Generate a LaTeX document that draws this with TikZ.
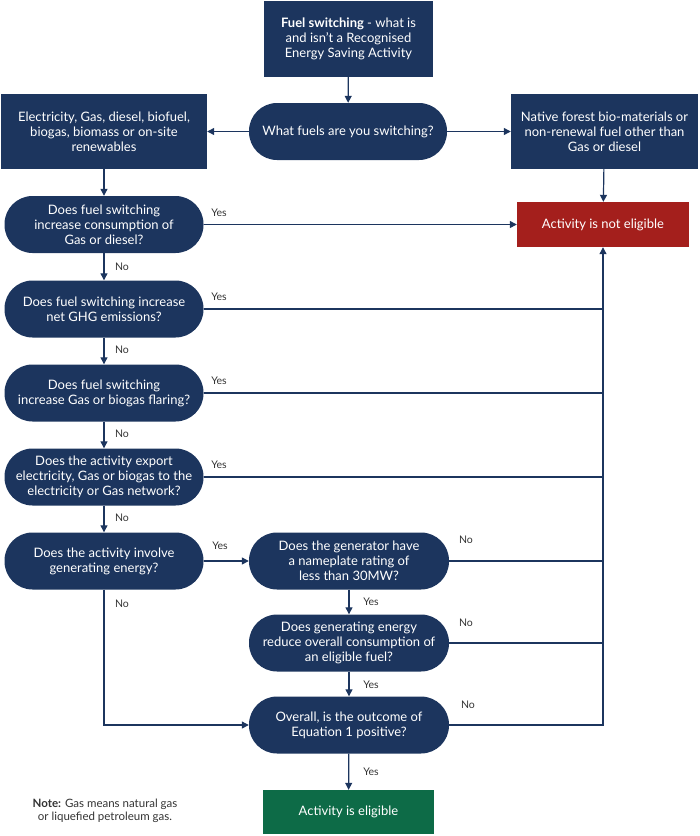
\documentclass[tikz,border=0pt]{standalone}
\usepackage{fontspec}
\setmainfont{Lato}
\usetikzlibrary{arrows.meta}
\definecolor{navy}{HTML}{1C355E}
\definecolor{bad}{HTML}{A41F1C}
\definecolor{good}{HTML}{0D6B47}
\definecolor{lbl}{HTML}{333333}
\tikzset{
  base/.style={draw=none, text=white, align=center, inner sep=1pt,
    font=\fontsize{13}{15}\selectfont},
  sq/.style={base, fill=navy, rectangle, minimum width=#1, minimum height=75},
  q/.style={base, fill=navy, rectangle, rounded corners=28pt, minimum width=199, minimum height=57},
  endbox/.style={base, fill=#1, minimum width=171, minimum height=45},
  conn/.style={draw=navy, line width=1.2pt},
  arr/.style={conn, -{Triangle[length=7pt,width=7pt]}},
  lab/.style={text=lbl, font=\fontsize{10.5}{12}\selectfont, inner sep=0pt}
}
\begin{document}
\begin{tikzpicture}[x=1pt,y=-1pt]
\useasboundingbox (0,0) rectangle (700,836);
\node[sq=169, minimum height=76] (top) at (348.5,39) {\textbf{Fuel switching} - what is\\and isn't a Recognised\\Energy Saving Activity};
\node[q, minimum width=198] (fuels) at (348,131.5) {What fuels are you switching?};
\node[sq=206] (left) at (104,131.5) {Electricity, Gas, diesel, biofuel,\\biogas, biomass or on-site\\renewables};
\node[sq=187] (right) at (604.5,131.5) {Native forest bio-materials or\\non-renewal fuel other than\\Gas or diesel};
\node[endbox=bad, minimum width=172] (red) at (603,224.5) {Activity is not eligible};
\node[q] (q1) at (104,224.5) {Does fuel switching\\increase consumption of\\Gas or diesel?};
\node[q] (q2) at (104,309) {Does fuel switching increase\\net GHG emissions?};
\node[q] (q3) at (104,393) {Does fuel switching\\increase Gas or biogas flaring?};
\node[q] (q4) at (104,477) {Does the activity export\\electricity, Gas or biogas to the\\electricity or Gas network?};
\node[q] (q5) at (104,561) {Does the activity involve\\generating energy?};
\node[q, minimum width=200] (g1) at (349,561) {Does the generator have\\a nameplate rating of\\less than 30MW?};
\node[q, minimum width=200] (g2) at (349,643) {Does generating energy\\reduce overall consumption of\\an eligible fuel?};
\node[q, minimum width=200] (g3) at (349,725) {Overall, is the outcome of\\Equation 1 positive?};
\node[endbox=good, minimum height=44] (green) at (348.5,812) {Activity is eligible};
\node[lab, text=black!80, align=center, font=\fontsize{11.5}{13.5}\selectfont] (note) at (105,811) {\textbf{Note:} Gas means natural gas\\or liquefied petroleum gas.};

% connectors
\draw[arr] (top) -- (fuels);
\draw[arr] (fuels.west) -- (left.east);
\draw[arr] (fuels.east) -- (right.west);
\draw[arr] (left) -- (q1);
\draw[arr] (right) -- (red);
\draw[arr] (q1.east) -- (red.west);
\draw[arr] (q1) -- (q2);
\draw[arr] (q2) -- (q3);
\draw[arr] (q3) -- (q4);
\draw[arr] (q4) -- (q5);
\draw[arr] (q5) -- (g1);
\draw[arr] (g1) -- (g2);
\draw[arr] (g2) -- (g3);
\draw[arr] (g3) -- (green);
\draw[arr] (q5.south) -- (q5.south |- g3.west) -- (g3.west);
\draw[arr] (g3.east) -- (g3.east -| red.south) -- (red.south);
\draw[conn] (q2.east) -- (q2.east -| red.south);
\draw[conn] (q3.east) -- (q3.east -| red.south);
\draw[conn] (q4.east) -- (q4.east -| red.south);
\draw[conn] (g1.east) -- (g1.east -| red.south);
\draw[conn] (g2.east) -- (g2.east -| red.south);

% labels
\node[lab] (y1) at (219,213) {Yes};
\node[lab] (y2) at (219,297) {Yes};
\node[lab] (y3) at (219,381) {Yes};
\node[lab] (y4) at (219,465) {Yes};
\node[lab] (y5) at (220,546) {Yes};
\node[lab] (n1) at (122,267) {No};
\node[lab] (n2) at (122,350) {No};
\node[lab] (n3) at (122,434) {No};
\node[lab] (n4) at (122,518) {No};
\node[lab] (n5) at (122,604) {No};
\node[lab] (n6) at (466,540) {No};
\node[lab] (n7) at (466,623) {No};
\node[lab] (n8) at (468,705) {No};
\node[lab] (y6) at (371,602) {Yes};
\node[lab] (y7) at (371,685) {Yes};
\node[lab] (y8) at (371,772) {Yes};
\end{tikzpicture}
\end{document}
